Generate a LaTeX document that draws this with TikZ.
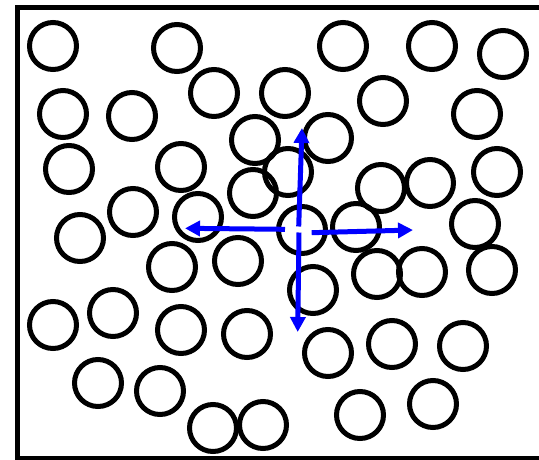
\documentclass[tikz,border=0pt]{standalone}
\usepackage{xcolor}
\usepackage{tikz}
\usetikzlibrary{arrows.meta}

\begin{document}
\begin{tikzpicture}[
  x=1pt, y=-1pt,
  disc/.style={draw, circle, line width=5pt, minimum size=47pt,
               inner sep=0pt, outer sep=0pt},
  frame/.style={draw, line width=5pt},
  arr/.style={-{Triangle[length=15pt, width=15pt]}, line width=5pt, blue}
]
  \clip (0,0) rectangle (539,459);
  \draw[frame] (17.5,7) rectangle (600,458.5);

  % top rows
  \node[disc] (d1) at (53,46) {};
  \node[disc] (d2) at (177,48) {};
  \node[disc] (d3) at (343,46) {};
  \node[disc] (d4) at (432,46) {};
  \node[disc] (d5) at (503,54) {};
  \node[disc] (d6) at (214,93) {};
  \node[disc] (d7) at (285,93) {};
  \node[disc] (d8) at (383,101) {};
  \node[disc] (d9) at (63,114) {};
  \node[disc] (d10) at (132,116) {};
  \node[disc] (d11) at (477,114) {};
  \node[disc] (d12) at (255,140) {};
  \node[disc] (d13) at (328,138) {};
  \node[disc] (d14) at (69,169) {};
  \node[disc] (d15) at (181,167) {};
  \node[disc] (d16) at (288,172) {};
  \node[disc] (d17) at (381,188) {};
  \node[disc] (d18) at (430,183) {};
  \node[disc] (d19) at (497,172) {};
  \node[disc] (d20) at (253,193) {};

  % middle rows
  \node[disc] (d21) at (133,212) {};
  \node[disc] (d22) at (198,217) {};
  \node[disc] (mid) at (302,230) {};
  \node[disc] (d23) at (356,227) {};
  \node[disc] (d24) at (475,224) {};
  \node[disc] (d25) at (80,238) {};
  \node[disc] (d26) at (172,267) {};
  \node[disc] (d27) at (238,261) {};
  \node[disc] (d28) at (313,290) {};
  \node[disc] (d29) at (377,274) {};
  \node[disc] (d30) at (422,272) {};
  \node[disc] (d31) at (492,270) {};

  % bottom rows
  \node[disc] (d32) at (53,325) {};
  \node[disc] (d33) at (113,313) {};
  \node[disc] (d34) at (181,330) {};
  \node[disc] (d35) at (247,334) {};
  \node[disc] (d36) at (328,353) {};
  \node[disc] (d37) at (392,344) {};
  \node[disc] (d38) at (463,346) {};
  \node[disc] (d39) at (98,383) {};
  \node[disc] (d40) at (160,391) {};
  \node[disc] (d41) at (213,428) {};
  \node[disc] (d42) at (263,425) {};
  \node[disc] (d43) at (360,415) {};
  \node[disc] (d44) at (433,404) {};

  % push directions
  \coordinate (upfrom) at (298.7,226.5);
  \coordinate (upto) at (302,128);
  \coordinate (downfrom) at (299,232.5);
  \coordinate (downto) at (297.7,332);
  \coordinate (leftfrom) at (285,229.3);
  \coordinate (leftto) at (185,228.3);
  \coordinate (rightfrom) at (311.7,232.7);
  \coordinate (rightto) at (413,230);

  \draw[arr] (upfrom) -- (upto);
  \draw[arr] (downfrom) -- (downto);
  \draw[arr] (leftfrom) -- (leftto);
  \draw[arr] (rightfrom) -- (rightto);
\end{tikzpicture}
\end{document}
